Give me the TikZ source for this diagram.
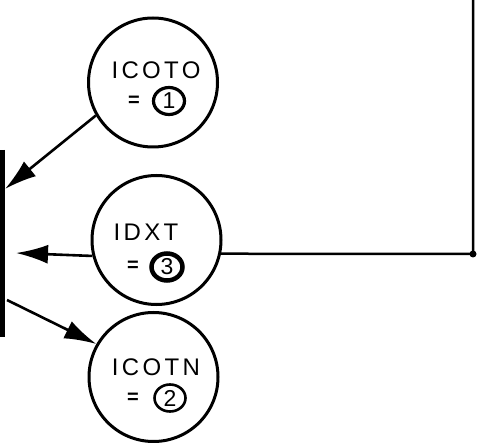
\documentclass[tikz,border=0pt]{standalone}
\usepackage{fontspec}
\setmainfont{Liberation Sans}
\usetikzlibrary{arrows.meta,shapes.geometric}

\tikzset{
  bigcirc/.style={circle, draw, line width=3pt, minimum size=129pt, inner sep=0pt},
  namelbl/.style={font=\fontsize{24}{24}\selectfont\addfontfeature{LetterSpace=14}, inner sep=0pt},
  eqlbl/.style={font=\fontsize{20}{20}\selectfont\bfseries, inner sep=0pt},
  numcirc/.style={ellipse, draw, minimum width=31pt, minimum height=27pt, inner sep=0pt,
    font=\fontsize{23}{23}\selectfont},
  flow/.style={line width=2.6pt, -{Latex[length=32pt,width=19pt]}},
  wire/.style={line width=2.5pt}
}

\begin{document}
\begin{tikzpicture}[x=1pt, y=-1pt]
  \useasboundingbox (0,0) rectangle (484,443);

  % left bus bar
  \draw[line width=4.5pt] (2.5,150) -- (2.5,337);

  % value circles
  \node[bigcirc] (c1) at (153,82.5) {};
  \node[bigcirc] (c2) at (156.5,240) {};
  \node[bigcirc] (c3) at (153.5,377) {};

  % labels inside circles
  \node[namelbl] (n1) at (156,70) {ICOTO};
  \node[eqlbl]   (e1) at (134,101) {=};
  \node[numcirc, line width=3.2pt] (k1) at (169,101) {1};

  \node[namelbl] (n2) at (146,232) {IDXT};
  \node[eqlbl]   (e2) at (133,266) {=};
  \node[numcirc, line width=4.5pt] (k2) at (167,267) {3};

  \node[namelbl] (n3) at (156,367) {ICOTN};
  \node[eqlbl]   (e3) at (133,398) {=};
  \node[numcirc, line width=2.6pt] (k3) at (170,398) {2};

  % connector end points
  \coordinate (t1) at (5,189);
  \coordinate (t2) at (16,253);
  \coordinate (s3) at (7,300);
  \coordinate (j)  at (473,254);
  \coordinate (top) at (473,0);

  % arrows
  \draw[flow] (c1.210) -- (t1);
  \draw[flow] (c2.194) -- (t2);
  \draw[flow] (s3) -- (c3.150);

  % feed line on the right
  \draw[wire] (c2.348) -- (j) -- (top);
  \fill (j) circle (3.5pt);
\end{tikzpicture}
\end{document}
